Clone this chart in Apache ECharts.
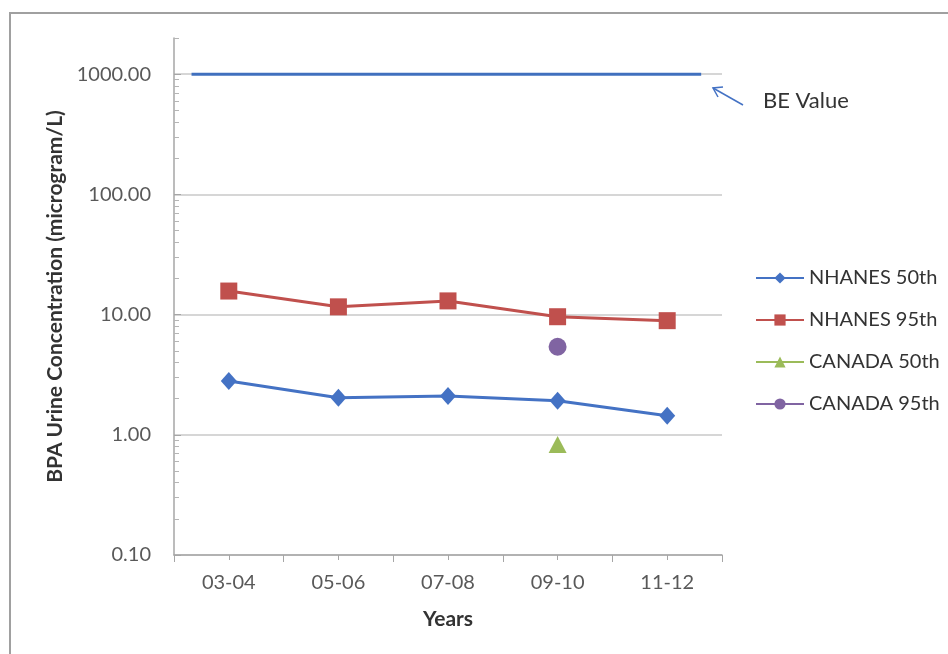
<!DOCTYPE html>
<html>
<head>
<meta charset="utf-8">
<script src="https://cdn.jsdelivr.net/npm/echarts@6/dist/echarts.min.js"></script>
<style>html,body{margin:0;padding:0;background:#fff;}#chart{width:948px;height:654px;}</style>
</head>
<body>
<div id="chart"></div>
<script>
const categories = ['03-04', '05-06', '07-08', '09-10', '11-12'];
const nhanes50 = [2.8, 2.03, 2.1, 1.92, 1.44];
const nhanes95 = [15.7, 11.6, 13.0, 9.6, 8.9];
const canada50 = ['-', '-', '-', 0.83, '-'];
const canada95 = ['-', '-', '-', 5.4, '-'];
const beValue = [[-0.34, 1000], [4.31, 1000]];
const yTicks = [0.1, 1, 10, 100, 1000];

const minorVals = [];
yTicks.forEach(t => { for (let m = 2; m <= 9; m++) minorVals.push(+(t * m).toPrecision(6)); });

const FONT = 'Lato, "Open Sans", sans-serif';
const chart = echarts.init(document.getElementById('chart'), null, { renderer: 'canvas' });
chart.setOption({
  animation: false,
  backgroundColor: '#fff',
  grid: { left: 174, right: 226, top: 38, bottom: 99 },
  legend: {
    orient: 'vertical', left: 750, top: 263,
    data: ['NHANES 50th', 'NHANES 95th', 'CANADA 50th', 'CANADA 95th'],
    itemWidth: 48, itemHeight: 14, itemGap: 22,
    textStyle: { fontFamily: FONT, fontSize: 20, lineHeight: 20, color: '#333' }
  },
  xAxis: [{
    type: 'category', data: categories, boundaryGap: true,
    axisLine: { lineStyle: { color: '#a6a6a6', width: 1.5 } },
    axisTick: { show: true, length: 7, lineStyle: { color: '#a6a6a6' } },
    axisLabel: { fontFamily: FONT, fontSize: 20, color: '#595959', margin: 18 },
    name: 'Years', nameLocation: 'middle', nameGap: 54,
    nameTextStyle: { fontFamily: FONT, fontSize: 21, fontWeight: 'bold', color: '#333' }
  }, {
    type: 'value', min: -0.5, max: 4.5, interval: 0.5, position: 'bottom',
    axisLine: { show: false },
    axisTick: { show: true, length: 5, lineStyle: { color: '#a6a6a6' } },
    axisLabel: { show: false }, splitLine: { show: false }
  }],
  yAxis: [{
    type: 'log', logBase: 10, min: 0.1, max: 2000,
    axisLine: { show: true, onZero: false, lineStyle: { color: '#a6a6a6', width: 1.5 } },
    axisTick: { show: true, inside: true, length: 7, lineStyle: { color: '#a6a6a6' } },
    splitLine: { show: true, showMaxLine: false, lineStyle: { color: '#c8c8c8', width: 1.5 } },
    axisLabel: {
      fontFamily: FONT, fontSize: 20, color: '#595959', margin: 23, showMaxLabel: false,
      formatter: v => {
        const t = yTicks.find(x => Math.abs(x - v) / x < 1e-6);
        return t === undefined ? '' : t.toFixed(2);
      }
    },
    name: 'BPA Urine Concentration (microgram/L)', nameLocation: 'middle', nameGap: 108,
    nameRotate: 90,
    nameTextStyle: { fontFamily: FONT, fontSize: 21, fontWeight: 'bold', color: '#333' }
  }, {
    type: 'log', logBase: 10, min: 0.1, max: 2000, position: 'left',
    axisLine: { show: false, onZero: false },
    axisTick: { show: true, inside: true, length: 5, customValues: minorVals, lineStyle: { color: '#b5b5b5' } },
    axisLabel: { show: false }, splitLine: { show: false }
  }],
  series: [{
    name: 'BE Value', type: 'line', xAxisIndex: 1, data: beValue, showSymbol: false,
    lineStyle: { color: '#4070BE', width: 3 }, itemStyle: { color: '#4070BE' }, silent: true
  }, {
    name: 'NHANES 50th', type: 'line', data: nhanes50, symbol: 'diamond', symbolSize: [16, 18],
    lineStyle: { color: '#4472C4', width: 3 }, itemStyle: { color: '#4472C4' }
  }, {
    name: 'NHANES 95th', type: 'line', data: nhanes95, symbol: 'rect', symbolSize: 17,
    lineStyle: { color: '#C0504D', width: 3 }, itemStyle: { color: '#C0504D' }
  }, {
    name: 'CANADA 50th', type: 'line', data: canada50, symbol: 'triangle', symbolSize: [18, 17],
    lineStyle: { color: '#9BBB59', width: 3 }, itemStyle: { color: '#9BBB59' }
  }, {
    name: 'CANADA 95th', type: 'line', data: canada95, symbol: 'circle', symbolSize: 18,
    lineStyle: { color: '#8064A2', width: 3 }, itemStyle: { color: '#8064A2' }
  }],
  graphic: [{
    type: 'rect', shape: { x: 10, y: 13, width: 1000, height: 800 },
    style: { fill: null, stroke: '#a0a0a0', lineWidth: 2 }, silent: true
  }, {
    type: 'line', shape: { x1: 713, y1: 88, x2: 743, y2: 105 },
    style: { stroke: '#4472C4', lineWidth: 1.5 }
  }, {
    type: 'polyline', shape: { points: [[723, 87], [713, 88], [718, 97]] },
    style: { stroke: '#4472C4', lineWidth: 1.5, fill: null }
  }, {
    type: 'text', left: 763, top: 90,
    style: { text: 'BE Value', fontFamily: FONT, fontSize: 22, fill: '#333' }
  }]
});
</script>
</body>
</html>
